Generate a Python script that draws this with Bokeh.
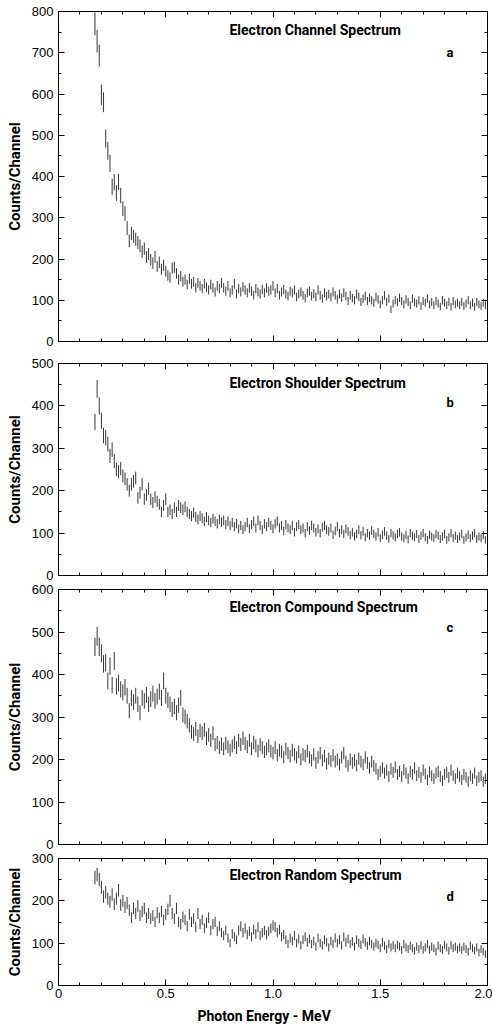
import numpy as np
from bokeh.plotting import figure
from bokeh.models import (Range1d, LinearAxis, SingleIntervalTicker, Label, Title,
                          CustomJSTickFormatter, ColumnDataSource)
from bokeh.layouts import column
from bokeh.embed import file_html
from bokeh.resources import INLINE

# ---------------- data ----------------
E_START = 0.17   # MeV, first channel
E_STEP = 0.01    # MeV per channel

channel_counts = [
    770, 728, 693, 598, 580, 492, 462, 432, 375, 386,
    360, 387, 354, 322, 310, 275, 244, 262, 255, 248,
    240, 232, 218, 225, 205, 212, 198, 190, 205, 182,
    192, 175, 185, 170, 160, 155, 178, 180, 165, 150,
    158, 145, 150, 138, 152, 140, 145, 130, 142, 135,
    128, 140, 132, 125, 138, 130, 120, 135, 128, 142,
    130, 122, 135, 118, 125, 140, 115, 128, 120, 132,
    125, 118, 130, 122, 112, 128, 120, 115, 126, 118,
    130, 122, 125, 135, 118, 128, 112, 120, 126, 115,
    110, 122, 118, 125, 108, 115, 120, 112, 105, 118,
    122, 110, 116, 108, 125, 112, 104, 118, 110, 115,
    108, 120, 112, 102, 115, 106, 118, 110, 98, 112,
    105, 100, 115, 108, 96, 104, 110, 98, 106, 100,
    94, 108, 102, 90, 100, 112, 96, 104, 78, 92,
    100, 95, 106, 98, 90, 102, 96, 88, 104, 95,
    92, 100, 86, 98, 94, 104, 90, 96, 88, 98,
    92, 85, 100, 94, 88, 96, 84, 98, 90, 94,
    88, 96, 86, 92, 100, 88, 94, 84, 96, 90,
    86, 94, 88, 92,
]

shoulder_counts = [
    362, 440, 400, 365, 330, 325, 310, 282, 297, 270,
    250, 245, 252, 235, 228, 215, 200, 215, 222, 230,
    183, 195, 215, 180, 190, 205, 180, 172, 185, 175,
    168, 150, 165, 180, 150, 155, 145, 160, 150, 165,
    160, 155, 162, 150, 145, 140, 148, 138, 132, 140,
    135, 128, 138, 130, 125, 134, 128, 122, 132, 126,
    130, 120, 128, 118, 125, 115, 122, 110, 118, 108,
    115, 125, 110, 120, 128, 112, 130, 118, 108, 122,
    115, 125, 118, 110, 122, 128, 112, 118, 105, 120,
    112, 108, 118, 102, 115, 120, 108, 112, 100, 115,
    106, 118, 112, 102, 110, 100, 114, 118, 108, 104,
    112, 96, 105, 115, 100, 108, 98, 110, 104, 95,
    102, 92, 98, 108, 95, 104, 90, 100, 94, 106,
    98, 92, 102, 88, 96, 104, 94, 86, 100, 95,
    90, 98, 102, 92, 88, 96, 85, 100, 94, 90,
    98, 86, 94, 100, 90, 84, 96, 92, 88, 98,
    94, 86, 92, 98, 84, 90, 100, 88, 94, 86,
    92, 98, 84, 90, 96, 88, 94, 100, 86, 92,
    88, 95, 84, 90,
]

compound_counts = [
    465, 490, 465, 450, 425, 428, 385, 420, 375, 432,
    372, 380, 365, 358, 370, 350, 315, 345, 335, 350,
    330, 310, 345, 338, 352, 330, 342, 355, 338, 348,
    360, 345, 385, 350, 340, 330, 318, 325, 310, 328,
    345, 305, 300, 290, 280, 265, 260, 272, 255, 268,
    262, 270, 250, 258, 245, 262, 235, 240, 228, 236,
    225, 238, 230, 222, 232, 240, 228, 245, 235, 250,
    238, 230, 245, 225, 240, 232, 220, 235, 228, 218,
    225, 232, 220, 215, 228, 210, 222, 218, 205, 225,
    215, 208, 222, 212, 205, 218, 200, 212, 208, 220,
    205, 198, 212, 192, 205, 215, 198, 208, 190, 202,
    196, 210, 195, 200, 188, 205, 215, 195, 185, 200,
    192, 198, 186, 202, 195, 188, 205, 192, 180, 195,
    185, 178, 165, 172, 180, 168, 175, 160, 178, 170,
    182, 165, 172, 160, 176, 168, 155, 172, 165, 180,
    162, 170, 158, 175, 166, 152, 170, 162, 155, 168,
    172, 160, 150, 165, 170, 158, 175, 162, 155, 168,
    160, 152, 165, 158, 148, 162, 155, 168, 150, 158,
    162, 148, 155, 160,
]

random_counts = [
    255, 262, 250, 232, 210, 220, 205, 198, 215, 192,
    205, 225, 190, 200, 185, 195, 178, 160, 182, 170,
    188, 165, 175, 182, 160, 170, 158, 165, 150, 172,
    160, 175, 155, 168, 180, 200, 170, 158, 182, 150,
    145, 162, 155, 140, 168, 150, 158, 138, 170, 145,
    155, 135, 148, 160, 130, 145, 150, 128, 140, 125,
    118, 130, 112, 100, 122, 115, 108, 130, 140, 125,
    135, 120, 128, 115, 132, 122, 138, 118, 125, 130,
    120, 128, 135, 142, 138, 125, 132, 115, 120, 108,
    98, 112, 105, 118, 100, 110, 95, 108, 115, 102,
    110, 98, 105, 92, 112, 100, 95, 108, 102, 90,
    105, 98, 112, 100, 108, 95, 115, 102, 110, 98,
    104, 92, 108, 100, 96, 110, 102, 94, 105, 98,
    92, 100, 96, 88, 102, 94, 86, 98, 90, 95,
    88, 96, 92, 84, 98, 90, 86, 94, 88, 82,
    92, 86, 95, 84, 90, 98, 85, 92, 88, 80,
    94, 88, 84, 96, 90, 82, 95, 88, 92, 85,
    90, 84, 92, 86, 80, 94, 88, 82, 90, 78,
    86, 80, 74, 70,
]

panel_titles = ["Electron Channel Spectrum", "Electron Shoulder Spectrum",
                "Electron Compound Spectrum", "Electron Random Spectrum"]
panel_letters = ["a", "b", "c", "d"]
y_maxima = [800, 500, 600, 300]
x_title = "Photon Energy - MeV"
y_title = "Counts/Channel"

# ---------------- styling ----------------
TICK_FONT = "Liberation Sans"
BOLD_FONT = "Roboto"
BAR_COLOR = "#363636"

# per panel layout: (height, border_top, border_bottom, title_y, letter_y)
layouts = [
    (352, 11, 11, 754, 700),
    (230, 11, 7, 455, 408),
    (269, 7, 7, 560, 511),
    (179, 7, 45, 260, 210),
]

blank_code = "return ''"


def style_ticks(ax):
    ax.axis_line_color = "black"
    ax.major_tick_line_color = "black"
    ax.minor_tick_line_color = "black"
    ax.major_tick_in = 6
    ax.major_tick_out = 0
    ax.minor_tick_in = 3
    ax.minor_tick_out = 0


def blank_labels(ax):
    ax.formatter = CustomJSTickFormatter(code=blank_code)
    ax.major_label_text_font_size = "0px"
    ax.major_label_standoff = 0


def make_panel(counts, ymax, title, letter, lay, show_x):
    height, bt, bb, ty, ly = lay
    p = figure(width=492, height=height, output_backend="svg", toolbar_location=None,
               x_range=Range1d(0, 2.0), y_range=Range1d(0, ymax),
               x_axis_location=None, y_axis_location=None,
               min_border_left=58, min_border_right=5,
               min_border_top=bt, min_border_bottom=bb)
    p.xgrid.grid_line_color = None
    p.ygrid.grid_line_color = None
    p.outline_line_color = "black"
    p.outline_line_width = 1
    p.background_fill_color = "white"
    p.border_fill_color = "white"

    # left axis
    left = LinearAxis(ticker=SingleIntervalTicker(interval=100, num_minor_ticks=2))
    style_ticks(left)
    left.major_label_text_font = TICK_FONT
    left.major_label_text_font_size = "13px"
    left.major_label_text_color = "black"
    left.major_label_standoff = 5
    left.axis_label = y_title
    left.axis_label_text_font = BOLD_FONT
    left.axis_label_text_font_style = "bold"
    left.axis_label_text_font_size = "15px"
    left.axis_label_text_color = "black"
    left.axis_label_standoff = 5
    p.add_layout(left, "left")

    # right axis (ticks only)
    right = LinearAxis(ticker=SingleIntervalTicker(interval=100, num_minor_ticks=2))
    style_ticks(right)
    blank_labels(right)
    p.add_layout(right, "right")

    # top axis (ticks only)
    top = LinearAxis(ticker=SingleIntervalTicker(interval=0.5, num_minor_ticks=5))
    style_ticks(top)
    blank_labels(top)
    p.add_layout(top, "above")

    # bottom axis
    bottom = LinearAxis(ticker=SingleIntervalTicker(interval=0.5, num_minor_ticks=5))
    style_ticks(bottom)
    if show_x:
        bottom.formatter = CustomJSTickFormatter(
            code="return tick == 0 ? '0' : tick.toFixed(1)")
        bottom.major_label_text_font = TICK_FONT
        bottom.major_label_text_font_size = "13px"
        bottom.major_label_text_color = "black"
        bottom.major_label_standoff = 3
    else:
        blank_labels(bottom)
    p.add_layout(bottom, "below")

    y = np.array(counts, dtype=float)
    x = E_START + E_STEP * np.arange(len(y))
    err = np.sqrt(y)
    src = ColumnDataSource(dict(x=x, lo=y - err, hi=y + err))
    p.segment(x0="x", y0="lo", x1="x", y1="hi", source=src,
              line_color=BAR_COLOR, line_width=1)

    p.add_layout(Label(x=0.797, y=ty, text=title, text_font=BOLD_FONT,
                       text_font_style="bold", text_font_size="14px",
                       text_color="black", text_baseline="middle"))
    p.add_layout(Label(x=1.809, y=ly, text=letter, text_font=BOLD_FONT,
                       text_font_style="bold", text_font_size="13px",
                       text_color="black", text_baseline="middle"))
    if show_x:
        # x-axis title below the tick labels, placed left of centre as in the original
        p.add_layout(Title(text=x_title, align="left", offset=139,
                           text_font=BOLD_FONT, text_font_style="bold",
                           text_font_size="14px", text_color="black",
                           standoff=10), "below")
    return p


series = [channel_counts, shoulder_counts, compound_counts, random_counts]
panels = []
for i in range(4):
    panels.append(make_panel(series[i], y_maxima[i], panel_titles[i],
                             panel_letters[i], layouts[i], i == 3))

layout = column(*panels, spacing=0)
open("out.html", "w").write(file_html(layout, INLINE))
